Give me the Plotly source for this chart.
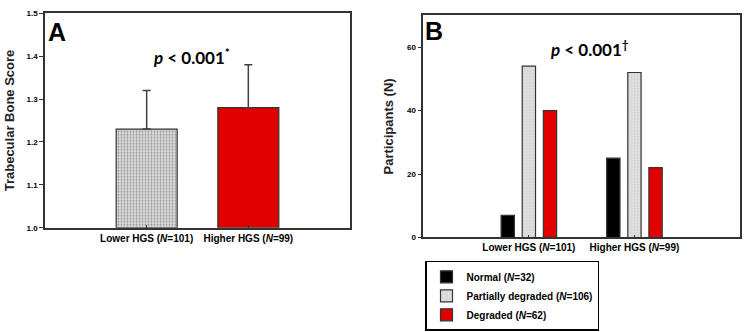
import plotly.graph_objects as go

# ---- data ----
groups = ["Lower HGS (<i>N</i>=101)", "Higher HGS (<i>N</i>=99)"]
tbs_mean = [1.23, 1.28]
tbs_sd = [0.09, 0.10]
tbs_colors = ["#dcdcdc", "#e00000"]

tbs_status = ["Normal (<i>N</i>=32)", "Partially degraded (<i>N</i>=106)", "Degraded (<i>N</i>=62)"]
counts_lower = [7, 54, 40]
counts_higher = [25, 52, 22]
status_colors = ["#000000", "#dcdcdc", "#e00000"]

W, H = 749, 332
def px(x):
    return x / W
def py(y):
    return 1 - y / H

FONT = "Liberation Sans, Arial, sans-serif"
PFONT = "Lato, Open Sans, sans-serif"
DOTS = dict(shape=".", fgcolor="#b4b4b4", bgcolor="#e2e2e2", size=3, solidity=0.3)
fig = go.Figure()

# Panel A
fig.add_trace(go.Bar(
    x=groups, y=[m - 1.0 for m in tbs_mean], base=1.0, width=0.6,
    marker=dict(color=tbs_colors, line=dict(color="#333333", width=1.2),
                pattern=dict(shape=[".", ""], fgcolor="#b4b4b4", bgcolor="#e2e2e2",
                             size=3, solidity=0.3)),
    error_y=dict(type="data", symmetric=False, array=tbs_sd, arrayminus=[0, 0],
                 color="#404040", thickness=1.5, width=4),
    showlegend=False, xaxis="x", yaxis="y", hoverinfo="skip"))

# Panel B
counts = [[counts_lower[i], counts_higher[i]] for i in range(3)]
offsets = [-0.263, -0.063, 0.137]
for i, name in enumerate(tbs_status):
    pat = DOTS if i == 1 else dict(shape="")
    fig.add_trace(go.Bar(
        x=groups, y=counts[i], name=name, width=0.126, offset=offsets[i],
        marker=dict(color=status_colors[i], line=dict(color="#333333", width=1.2), pattern=pat),
        xaxis="x2", yaxis="y2", hoverinfo="skip"))

axis_common = dict(showline=True, linecolor="#333333", linewidth=1.5, mirror=True,
                   showgrid=False, zeroline=False)
xtick = dict(family=FONT, size=10, color="#000000", weight="bold")
ytick = dict(family=FONT, size=8, color="#000000", weight="bold")

fig.update_layout(
    width=W, height=H, margin=dict(l=0, r=0, t=0, b=0),
    paper_bgcolor="white", plot_bgcolor="white",
    barmode="overlay",
    font=dict(family=FONT),
    xaxis=dict(domain=[px(45), px(350)], range=[-1, 2], anchor="y",
               ticks="inside", ticklen=3, tickcolor="#333333", tickfont=xtick,
               **axis_common),
    yaxis=dict(domain=[py(230), py(9.5)], range=[1.0, 1.5], anchor="x",
               tickvals=[1.0, 1.1, 1.2, 1.3, 1.4, 1.5], tickformat=".1f",
               ticks="outside", ticklen=4, tickcolor="#333333", tickfont=ytick,
               title=dict(text="<b>Trabecular Bone Score</b>", standoff=9,
                          font=dict(family=FONT, size=13, color="#222222")),
               **axis_common),
    xaxis2=dict(domain=[px(423.3), px(740)], range=[-1, 2], anchor="y2",
                ticks="inside", ticklen=3, tickcolor="#333333", tickfont=xtick,
                **axis_common),
    yaxis2=dict(domain=[py(240), py(11.7)], range=[0, 70], anchor="x2",
                tickvals=[0, 20, 40, 60],
                ticks="outside", ticklen=4, tickcolor="#333333", tickfont=ytick,
                title=dict(text="<b>Participants (N)</b>", standoff=10,
                           font=dict(family=FONT, size=13, color="#222222")),
                **axis_common),
    legend=dict(x=px(425), y=py(264), xanchor="left", yanchor="top",
                bgcolor="white", bordercolor="#000000", borderwidth=1.5,
                font=dict(family=FONT, size=10, color="#000000", weight="bold"),
                itemwidth=30, tracegroupgap=0),
    annotations=[
        dict(text="<b>A</b>", xref="paper", yref="paper", x=px(46), y=py(29),
             xanchor="left", yanchor="middle", showarrow=False,
             font=dict(family=FONT, size=25, color="#000000")),
        dict(text="<b>B</b>", xref="paper", yref="paper", x=px(423), y=py(28),
             xanchor="left", yanchor="middle", showarrow=False,
             font=dict(family=FONT, size=25, color="#000000")),
        dict(text="<b><i>p</i> < 0.001<sup>*</sup></b>", xref="paper", yref="paper",
             x=px(191), y=py(54), xanchor="center", yanchor="middle", showarrow=False,
             font=dict(family=PFONT, size=17, color="#000000")),
        dict(text="<b><i>p</i> < 0.001<sup>†</sup></b>", xref="paper", yref="paper",
             x=px(589), y=py(46), xanchor="center", yanchor="middle", showarrow=False,
             font=dict(family=PFONT, size=17, color="#000000")),
    ],
)

fig.write_html("out.html")
